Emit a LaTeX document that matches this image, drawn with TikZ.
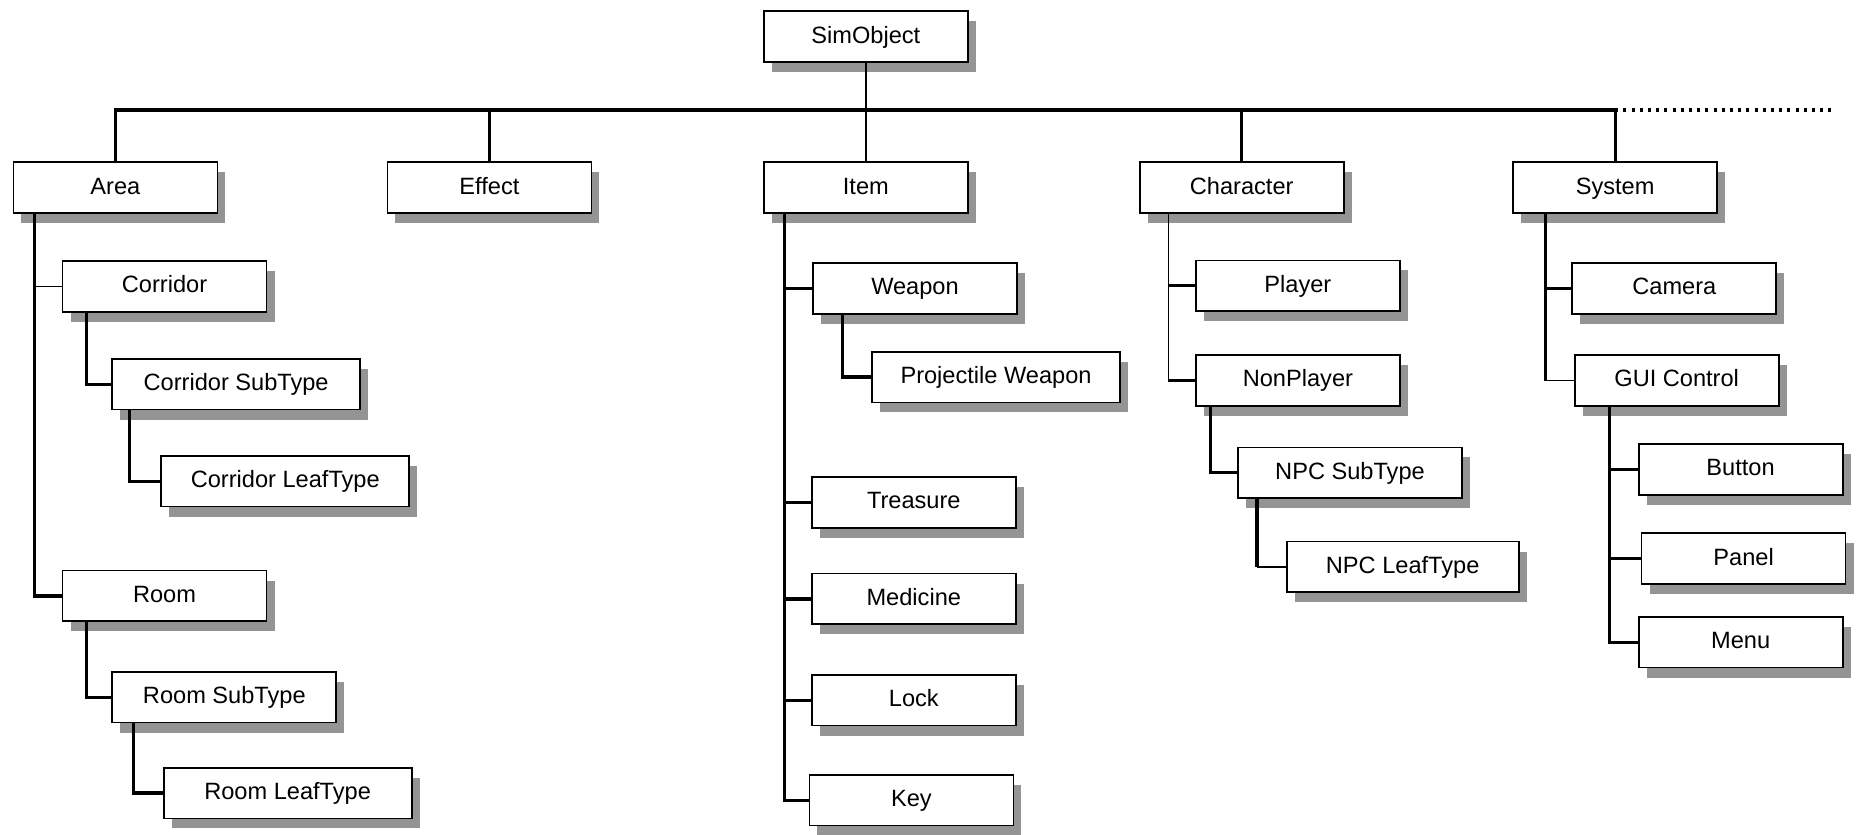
\documentclass[tikz,border=0pt]{standalone}
\usepackage{fontspec}
\setmainfont{Liberation Sans}
\usetikzlibrary{shadows}

\begin{document}
\begin{tikzpicture}[x=0.5918pt, y=-0.5918pt,
    box/.style={draw, fill=white, line width=0.9pt, inner sep=0pt,
        minimum width=102pt, minimum height=25.4pt,
        text height=8.6pt, text depth=2.2pt,
        font=\fontsize{11.8}{14}\selectfont,
        drop shadow={shadow xshift=4pt, shadow yshift=-5pt, fill=black!42, opacity=1}},
    midbox/.style={box, minimum width=112pt},
    widebox/.style={box, minimum width=124pt},
    thk/.style={line width=1.6pt},
    thn/.style={line width=0.8pt}]
    \useasboundingbox (0,0) rectangle (1568,705);

    \node[box] (simobj) at (731.5,31) {SimObject};
    \node[box] (area) at (97.5,158.5) {Area};
    \node[box] (effect) at (413.5,158.5) {Effect};
    \node[box] (item) at (731.5,158.5) {Item};
    \node[box] (charac) at (1049,158.5) {Character};
    \node[box] (system) at (1364.5,158.5) {System};

    % area branch
    \node[box] (corridor) at (139,242) {Corridor};
    \node[widebox] (corrsub) at (199.5,324.5) {Corridor SubType};
    \node[widebox] (corrleaf) at (241,406.5) {Corridor LeafType};
    \node[box] (room) at (139,503.5) {Room};
    \node[midbox] (roomsub) at (189.5,589) {Room SubType};
    \node[widebox] (roomleaf) at (243,670) {Room LeafType};

    % item branch
    \node[box] (weapon) at (773,243.5) {Weapon};
    \node[widebox] (projweap) at (841.5,318.5) {Projectile Weapon};
    \node[box] (treasure) at (772,424.5) {Treasure};
    \node[box] (medicine) at (772,506) {Medicine};
    \node[box] (lock) at (772,591.5) {Lock};
    \node[box] (key) at (770,676) {Key};

    % character branch
    \node[box] (player) at (1096.5,241.5) {Player};
    \node[box] (nonplayer) at (1096.5,321.5) {NonPlayer};
    \node[midbox] (npcsub) at (1140.5,399.5) {NPC SubType};
    \node[box, minimum width=116pt] (npcleaf) at (1185,479) {NPC LeafType};

    % system branch
    \node[box] (camera) at (1414.5,243.5) {Camera};
    \node[box] (gui) at (1416.5,321.5) {GUI Control};
    \node[box] (button) at (1470.5,396.5) {Button};
    \node[box] (panel) at (1473,472) {Panel};
    \node[box] (menu) at (1470.5,542.5) {Menu};

    % top bus
    \coordinate (bus) at (0,93);
    \coordinate (busend) at (1548,93);
    \draw[thk] (area.north) -- (area.north |- bus) -- (system.north |- bus) -- (system.north);
    \draw[thk] (effect.north) -- (effect.north |- bus);
    \draw[thk] (charac.north) -- (charac.north |- bus);
    \draw[thn] (simobj) -- (item);
    \draw[thk, dash pattern=on 1.5pt off 2.6pt] (system.north |- bus) -- (busend);

    \coordinate (areatrunk) at ([xshift=11pt]area.south west);
    \draw[thk] (areatrunk) |- (room.west);
    \draw[thn] (corridor.west) -- (corridor.west -| areatrunk);
    \draw[thk] ([xshift=12.5pt]corridor.south west) |- (corrsub.west);
    \draw[thk] ([xshift=9pt]corrsub.south west) |- (corrleaf.west);
    \draw[thk] ([xshift=12.5pt]room.south west) |- (roomsub.west);
    \draw[thk] ([xshift=11pt]roomsub.south west) |- (roomleaf.west);

    \coordinate (itemtrunk) at ([xshift=10.7pt]item.south west);
    \draw[thk] (itemtrunk) |- (key.west);
    \foreach \n in {weapon,treasure,medicine,lock}
        \draw[thk] (\n.west) -- (\n.west -| itemtrunk);
    \draw[thk] ([xshift=15.4pt]weapon.south west) |- (projweap.west);

    \coordinate (chartrunk) at ([xshift=14.8pt]charac.south west);
    \draw[thn] (chartrunk) -- (chartrunk |- nonplayer.west);
    \foreach \n in {player,nonplayer}
        \draw[thk] (\n.west) -- (\n.west -| chartrunk);
    \draw[thk] ([xshift=7.7pt]nonplayer.south west) |- (npcsub.west);
    \coordinate (npctrunk) at ([xshift=10pt]npcsub.south west);
    \draw[thk] (npctrunk) -- (npctrunk |- npcleaf.west);
    \draw[thn] (npcleaf.west) -- (npcleaf.west -| npctrunk);

    \coordinate (systrunk) at ([xshift=16.6pt]system.south west);
    \draw[thk] (systrunk) -- (systrunk |- gui.west);
    \draw[thk] (camera.west) -- (camera.west -| systrunk);
    \draw[thn] (gui.west) -- (gui.west -| systrunk);
    \coordinate (guitrunk) at ([xshift=17.8pt]gui.south west);
    \draw[thk] (guitrunk) |- (menu.west);
    \foreach \n in {button,panel}
        \draw[thk] (\n.west) -- (\n.west -| guitrunk);
\end{tikzpicture}
\end{document}
